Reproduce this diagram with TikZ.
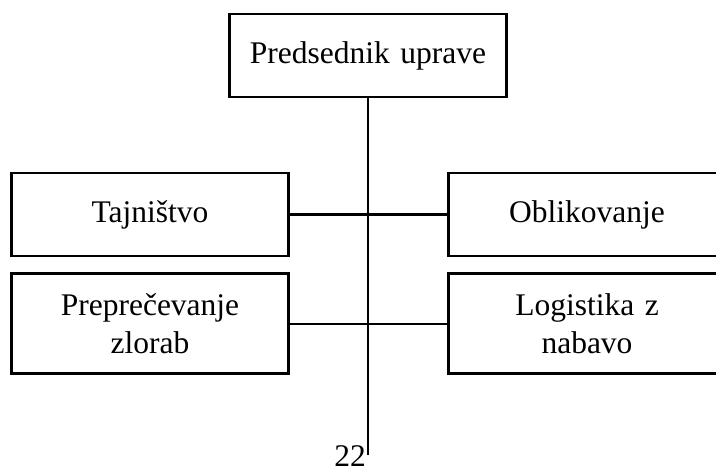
\documentclass[tikz,border=0pt]{standalone}
\usepackage{fontspec}
\setmainfont{Liberation Serif}
\usetikzlibrary{positioning}
\tikzset{
		org box/.style={
			rectangle,
			draw=black,
			line width=2.8pt,
			align=center,
			text width=250pt,
			minimum width=277pt,
			minimum height=83pt,
			inner sep=0pt,
			font=\fontsize{31.5}{38}\selectfont
		},
		org line/.style={line width=2.5pt}
	}
\begin{document}
\begin{tikzpicture}[x=1pt,y=-1pt]
		\useasboundingbox (0,0) rectangle (716,473);
		\node[org box] (predsednik) at (368,55.5) {Predsednik uprave};
		\node[org box] (tajnistvo) at (150,214.5) {Tajni\v{s}tvo};
		\node[org box] (oblikovanje) at (587,214.5) {Oblikovanje};
		\node[org box, minimum height=100pt, below=15pt of tajnistvo] (zlorabe) {Prepre\v{c}evanje\\ zlorab};
		\node[org box, minimum height=100pt, below=15pt of oblikovanje] (logistika) {Logistika z\\ nabavo};
		%lines:
		\coordinate (spodaj) at (368,455);
		\draw[org line] (predsednik.south) -- (spodaj);
		\draw[org line] (tajnistvo.east) -- (oblikovanje.west);
		\draw[org line] (zlorabe.east) -- (logistika.west);
		\node[anchor=base east, inner sep=0pt, font=\fontsize{31.5}{38}\selectfont] (stran) at (366,467) {22};
	\end{tikzpicture}
\end{document}
